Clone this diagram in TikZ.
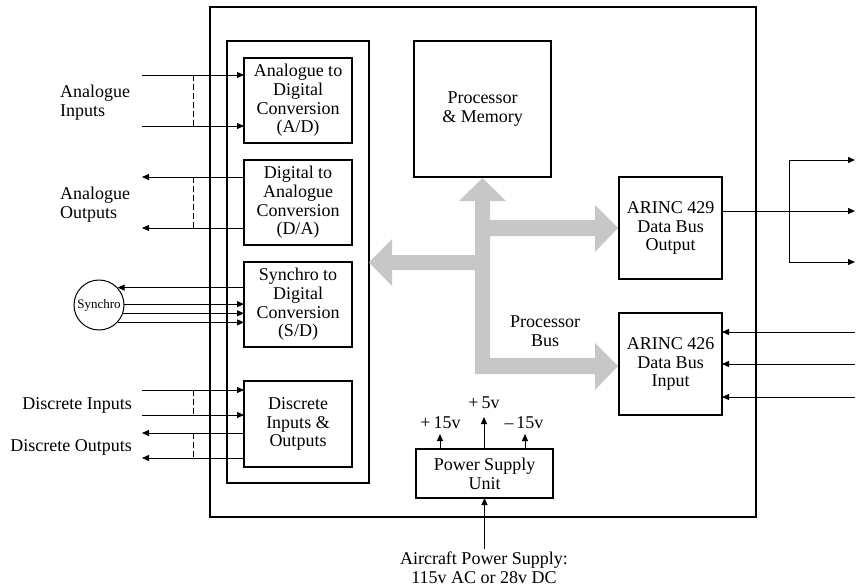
\documentclass[tikz,border=0pt]{standalone}
\usepackage{fontspec}
\setmainfont{Liberation Serif}
\usetikzlibrary{arrows.meta}
\begin{document}
\begin{tikzpicture}[x=1pt,y=-1pt,
  txt/.style={font=\fontsize{18}{18.7}\selectfont, align=center, inner sep=0pt},
  blk/.style={draw, line width=1.3pt, inner sep=0pt, outer sep=0pt, txt},
  arr/.style={-{Triangle[length=7pt,width=6pt]}, line width=1pt},
  wire/.style={line width=1pt},
  dsh/.style={line width=1pt, dash pattern=on 6pt off 3pt},
  bus/.style={fill=black!22, draw=none}]
\useasboundingbox (0,0) rectangle (856,586);

% boxes
\node[blk, line width=2.4pt, minimum width=546pt, minimum height=510pt] (main) at (483,262) {};
\node[blk, minimum width=142pt, minimum height=442pt] (col) at (298,262) {};
\node[blk, minimum width=108pt, minimum height=85pt] (ad) at (298,100.5) {Analogue to\\Digital\\Conversion\\(A/D)};
\node[blk, minimum width=108pt, minimum height=85pt] (da) at (298,202.5) {Digital to\\Analogue\\Conversion\\(D/A)};
\node[blk, minimum width=108pt, minimum height=85pt] (sd) at (298,304.5) {Synchro to\\Digital\\Conversion\\(S/D)};
\node[blk, minimum width=108pt, minimum height=86pt] (dio) at (298,424) {Discrete\\Inputs \&\\Outputs};
\node[blk, minimum width=137pt, minimum height=136pt] (pm) at (482.5,109) {Processor\\\& Memory};
\node[blk, minimum width=103pt, minimum height=102pt] (a429) at (670.5,228) {ARINC 429\\Data Bus\\Output};
\node[blk, minimum width=103pt, minimum height=102pt] (a426) at (670.5,364) {ARINC 426\\Data Bus\\Input};
\node[blk, minimum width=137pt, minimum height=49pt] (psu) at (484.5,473.5) {Power Supply\\Unit};

% processor bus
\path[bus] (482.5,178) -- (506,201) -- (490,201) -- (490,220) -- (595,220) -- (595,205) -- (618,228)
  -- (595,252) -- (595,236) -- (490,236) -- (490,358) -- (595,358) -- (595,343) -- (618,366)
  -- (595,390) -- (595,374) -- (475,374) -- (475,270) -- (392,270) -- (392,286) -- (369,262.5)
  -- (392,239) -- (392,255) -- (475,255) -- (475,201) -- (459,201) -- cycle;
\node[txt] (pbus) at (545,331.5) {Processor\\Bus};

% analogue inputs
\coordinate (ai1) at (142,75);
\coordinate (ai2) at (142,126);
\draw[arr] (ai1) -- (ai1 -| ad.west);
\draw[arr] (ai2) -- (ai2 -| ad.west);
\draw[dsh] ([xshift=51pt]ai1) -- ([xshift=51pt]ai2);
\node[txt, align=left, anchor=west] (lai) at (60,102.5) {Analogue\\Inputs};

% analogue outputs
\coordinate (ao1) at (142,177);
\coordinate (ao2) at (142,228);
\draw[arr] (ao1 -| da.west) -- (ao1);
\draw[arr] (ao2 -| da.west) -- (ao2);
\draw[dsh] ([xshift=51pt]ao1) -- ([xshift=51pt]ao2);
\node[txt, align=left, anchor=west] (lao) at (60,205) {Analogue\\Outputs};

% synchro
\node[draw, circle, line width=1pt, minimum size=50pt, inner sep=0pt,
      font=\fontsize{13}{14}\selectfont] (syn) at (99,305) {Synchro};
\draw[arr] (syn.43 -| sd.west) -- (syn.43);
\draw[arr] (syn.2) -- (syn.2 -| sd.west);
\draw[arr] (syn.-19) -- (syn.-19 -| sd.west);
\draw[arr] (syn.-43) -- (syn.-43 -| sd.west);

% discrete
\coordinate (di1) at (142,390);
\coordinate (di2) at (142,415);
\coordinate (do1) at (142,433);
\coordinate (do2) at (142,458);
\draw[arr] (di1) -- (di1 -| dio.west);
\draw[arr] (di2) -- (di2 -| dio.west);
\draw[arr] (do1 -| dio.west) -- (do1);
\draw[arr] (do2 -| dio.west) -- (do2);
\draw[dsh] ([xshift=51pt]di1) -- ([xshift=51pt]di2);
\draw[dsh] ([xshift=51pt]do1) -- ([xshift=51pt]do2);
\node[txt, anchor=east] (ldi) at (132,405) {Discrete Inputs};
\node[txt, anchor=east] (ldo) at (132,447) {Discrete Outputs};

% ARINC 429 outputs
\coordinate (r1) at (855,160);
\coordinate (r2) at (855,211);
\coordinate (r3) at (855,262);
\coordinate (v1) at (789,160);
\coordinate (v2) at (789,262);
\draw[arr] (a429.east |- r2) -- (r2);
\draw[wire] (v1) -- (v2);
\draw[arr] (v1) -- (r1);
\draw[arr] (v2) -- (r3);

% ARINC 426 inputs
\coordinate (q1) at (855,332);
\coordinate (q2) at (855,364);
\coordinate (q3) at (855,397);
\draw[arr] (q1) -- (q1 -| a426.east);
\draw[arr] (q2) -- (q2 -| a426.east);
\draw[arr] (q3) -- (q3 -| a426.east);

% power supply
\coordinate (p15) at (440,434);
\coordinate (p5) at (484,417);
\coordinate (m15) at (525,434);
\draw[arr] (p15 |- psu.north) -- (p15);
\draw[arr] (p5 |- psu.north) -- (p5);
\draw[arr] (m15 |- psu.north) -- (m15);
\node[txt] (lp15) at (440.5,422.5) {+\,15v};
\node[txt] (lp5) at (484,402.5) {+\,5v};
\node[txt] (lm15) at (524,422.5) {–\,15v};
\coordinate (acin) at (484,548);
\draw[arr] (acin) -- (acin -| psu.south) -- (psu.south);
\node[txt] (lac) at (484,568) {Aircraft Power Supply:\\115v AC or 28v DC};
\end{tikzpicture}
\end{document}
